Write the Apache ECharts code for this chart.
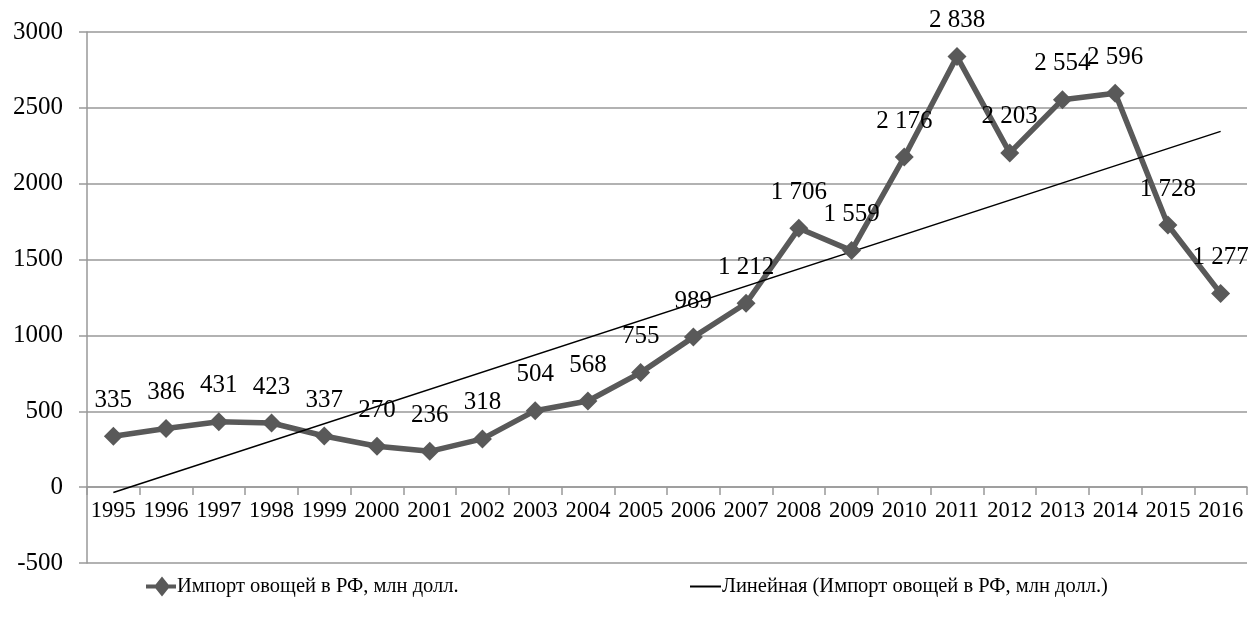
<!DOCTYPE html>
<html>
<head>
<meta charset="utf-8">
<script src="https://cdn.jsdelivr.net/npm/echarts@6/dist/echarts.min.js"></script>
<style>
  html, body { margin: 0; padding: 0; background: #fff; }
  #chart { width: 1254px; height: 627px; }
</style>
</head>
<body>
<div id="chart"></div>
<script>
const years = ['1995', '1996', '1997', '1998', '1999', '2000', '2001', '2002', '2003', '2004', '2005',
  '2006', '2007', '2008', '2009', '2010', '2011', '2012', '2013', '2014', '2015', '2016']
const importValues = [335, 386, 431, 423, 337, 270, 236, 318, 504, 568, 755,
  989, 1212, 1706, 1559, 2176, 2838, 2203, 2554, 2596, 1728, 1277]
// trend line endpoints
const trendPoints = [['1995', -35], ['2016', 2345]]

const seriesName = 'Импорт овощей в РФ, млн долл.'
const trendName = 'Линейная (Импорт овощей в РФ, млн долл.)'

const font = '"Liberation Serif", "Times New Roman", serif'

// 2838 -> "2 838"
const fmtValue = v => {
  const s = String(v)
  return s.length > 3 ? s.slice(0, s.length - 3) + ' ' + s.slice(-3) : s
}

const chart = echarts.init(document.getElementById('chart'))

const option = {
  animation: false,
  textStyle: { fontFamily: font, color: '#000' },
  grid: { left: 87, right: 7, top: 32, bottom: 64, containLabel: false },
  legend: [
    {
      data: [{ name: seriesName, icon: 'path://M0,8L30,8L30,12L0,12Z M16,0L24,10L16,20L8,10Z' }],
      left: 141,
      top: 571,
      itemWidth: 30,
      itemHeight: 20,
      textStyle: { fontFamily: font, fontSize: 20.5, color: '#000', padding: [0, 0, 0, -4] }
    },
    {
      data: [{ name: trendName, icon: 'rect' }],
      left: 685,
      top: 571,
      itemWidth: 31,
      itemHeight: 2,
      textStyle: { fontFamily: font, fontSize: 20.5, color: '#000', padding: [0, 0, 0, -4] }
    }
  ],
  xAxis: {
    type: 'category',
    data: years,
    boundaryGap: true,
    // the category axis sits on the zero line, 500 units above the bottom
    offset: -76,
    axisLine: { onZero: false, lineStyle: { color: '#999', width: 1.5 } },
    axisTick: { show: true, length: 8, alignWithLabel: false, lineStyle: { color: '#999', width: 1.5 } },
    axisLabel: { fontFamily: font, fontSize: 22.5, color: '#000', margin: 13, interval: 0 },
    splitLine: { show: false }
  },
  yAxis: {
    type: 'value',
    min: -500,
    max: 3000,
    interval: 500,
    axisLine: { show: true, lineStyle: { color: '#999', width: 1.5 } },
    axisTick: { show: true, length: 8, lineStyle: { color: '#999', width: 1.5 } },
    axisLabel: { fontFamily: font, fontSize: 25, color: '#000', margin: 24, formatter: v => String(v) },
    splitLine: { show: true, lineStyle: { color: '#999', width: 1.5 } }
  },
  series: [
    {
      name: seriesName,
      type: 'line',
      data: importValues,
      symbol: 'diamond',
      symbolSize: 19,
      lineStyle: { color: '#595959', width: 5.5 },
      itemStyle: { color: '#595959' },
      label: {
        show: true,
        position: 'top',
        distance: 14,
        fontFamily: font,
        fontSize: 25,
        color: '#000',
        formatter: p => fmtValue(p.value)
      }
    },
    {
      name: trendName,
      type: 'line',
      data: trendPoints,
      symbol: 'none',
      lineStyle: { color: '#000', width: 1.5 },
      itemStyle: { color: '#000' }
    }
  ]
}

chart.setOption(option)
</script>
</body>
</html>
